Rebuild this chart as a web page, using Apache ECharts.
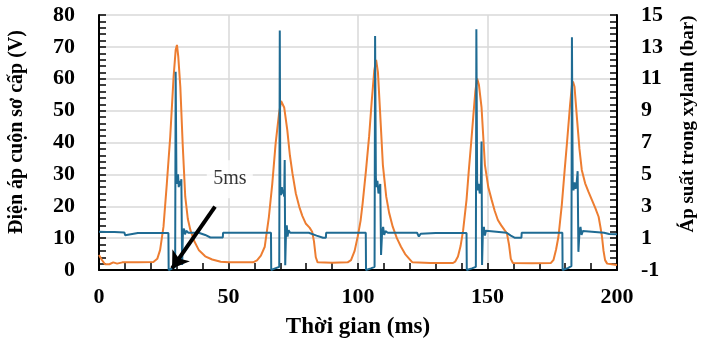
<!DOCTYPE html>
<html>
<head>
<meta charset="utf-8">
<script src="https://cdn.jsdelivr.net/npm/echarts@6/dist/echarts.min.js"></script>
<style>
  html, body { margin: 0; padding: 0; background: #fff; }
  #chart { width: 709px; height: 341px; }
</style>
</head>
<body>
<div id="chart"></div>
<script>
// primary coil voltage (V), left axis
const voltTime = [
  0, 3, 6, 9.8, 10.1, 10.5, 10.7, 15, 20, 26.8, 26.9, 28, 29.4, 29.6, 29.9, 30.2, 30.5, 30.8, 31.1, 31.5, 31.8, 32.1, 32.4, 32.8, 33.2, 33.7, 34.5,
  38.5, 41, 43, 47.8, 47.9, 55, 66.4, 66.5, 68, 69.6, 69.8, 70.0, 70.3, 70.6, 70.9, 71.2, 71.5, 71.7, 71.9, 72.2, 72.5, 72.8, 73.2, 73.8,
  81, 84, 86.5, 87.6, 87.7, 95, 103, 103.1, 105, 106.4, 106.6, 106.9, 107.2, 107.5, 107.9, 108.3, 108.6, 108.9, 109.3, 109.7, 110.1, 110.6, 111.5,
  122.8, 123.5, 124.2, 130, 141.9, 142, 144, 145.5, 145.7, 146, 146.3, 146.6, 147, 147.4, 147.7, 147.9, 148.2, 148.6, 149, 149.4, 150,
  157.4, 159, 160.6, 163.1, 163.2, 170, 178.9, 179, 181, 182.4, 182.6, 182.9, 183.2, 183.6, 184, 184.4, 184.8, 185.1, 185.5, 185.9, 186.3, 186.8, 187.5,
  195, 197, 200
];
const voltValue = [
  12, 11.9, 11.9, 11.8, 10.9, 10.9, 11.5, 11.6, 11.6, 11.6, 0, 0.4, 1.0, 62.2, 29, 27, 30, 26, 28, 26.5, 28.5, 1.6, 11.7, 13, 11.2, 12.3, 11.7,
  11.7, 11, 10.2, 10.2, 11.7, 11.7, 11.7, 0, 0.5, 1.0, 75.1, 26, 23.5, 26, 24, 25, 23, 34.5, 1.5, 11.7, 14, 10.5, 12.5, 11.7,
  11.7, 10.8, 10.1, 10.1, 11.7, 11.7, 11.7, 0, 0.5, 1.0, 73.4, 29, 26, 28, 24, 26, 27, 4.7, 11.7, 13.5, 11, 12.2, 11.7,
  11.7, 10.5, 11.4, 11.6, 11.6, 0, 0.5, 1.0, 75.5, 28, 25, 27, 24, 26, 40.3, 1.6, 11.7, 13.5, 10.8, 12.3, 11.7,
  11.7, 10.8, 10.1, 10.1, 11.7, 11.7, 11.7, 0, 0.6, 1.2, 73, 27, 25, 27.5, 25.5, 27, 31, 5.7, 11.7, 13.5, 11, 12.2, 11.7,
  11.7, 11.3, 11.2
];

// cylinder pressure (bar), right axis
const pressTime = [
  0, 1, 2.3, 4, 5.5, 7, 9, 15, 21, 22.5, 23.6, 24.9, 26.2, 27.5, 28.8, 29.6, 30.1, 30.6, 31.4, 32.3, 33.3, 34.3, 35.3, 36.8, 38.5, 41, 43.7, 47, 50, 55, 59.5,
  61, 62.5, 64, 65.6, 66.9, 68.2, 69.5, 70.3, 70.8, 71.5, 72.7, 73.7, 74.7, 76, 77.3, 78.5, 79.8, 81.3, 82.3, 83, 83.7, 84.4, 90, 96,
  97.3, 98.7, 99.9, 101, 101.8, 103.1, 104.3, 105.3, 106.3, 107, 107.7, 108.5, 109.6, 110.9, 112, 113.4, 115, 116.6, 118.2, 119.8, 121, 128, 136.7,
  137.5, 138.6, 139.6, 140.6, 141.9, 142.8, 143.7, 144.5, 145.3, 146, 146.7, 147.7, 149, 150.3, 151.6, 152.8, 154, 155.3, 156.6, 157.5, 158.3, 159, 159.8, 167, 174.5,
  175.5, 176.5, 177.4, 178.7, 179.8, 180.7, 181.9, 182.6, 183, 183.6, 184.6, 185.5, 186.4, 187.7, 189, 190.3, 191.6, 192.9, 193.6, 194.2, 194.8, 195.4, 196.2, 198, 200
];
const pressValue = [
  -0.06, -0.34, -0.64, -0.64, -0.52, -0.6, -0.52, -0.52, -0.5, -0.3, 0.26, 1.72, 4.44, 7.36, 11.12, 12.8, 13.12, 12.4, 10.5, 6.94, 3.6, 2.2, 1.5, 0.8, 0.26, -0.14, -0.34, -0.48, -0.52, -0.52, -0.52,
  -0.4, -0.1, 0.46, 2.34, 4.4, 6.94, 8.8, 9.6, 9.66, 9.2, 7.78, 6.2, 5.06, 3.8, 2.98, 2.4, 1.92, 1.66, 1.4, 0.8, -0.2, -0.52, -0.54, -0.52,
  -0.38, 0.2, 1.1, 2.1, 3.2, 5.28, 7.4, 9.6, 11.54, 12.18, 11.4, 9, 5.6, 3.6, 2.6, 1.72, 1, 0.46, 0, -0.3, -0.52, -0.56, -0.56,
  -0.48, -0.16, 0.5, 1.5, 3.4, 5.28, 7, 8.62, 10.2, 11.02, 10.6, 9.2, 5.6, 4.2, 3.4, 2.7, 2.14, 1.8, 1.5, 1.3, 0.6, -0.3, -0.56, -0.58, -0.56,
  -0.36, 0.3, 1.1, 3.1, 5.28, 7, 9.4, 10.6, 10.82, 10.5, 8.4, 6.6, 5.28, 4.44, 3.9, 3.4, 2.9, 2.34, 1.7, 1.1, 0.2, -0.38, -0.6, -0.64, -0.68
];

// axis titles
const xTitle = 'Thời gian (ms)';
const leftTitle = 'Điện áp cuộn sơ cấp (V)';
const rightTitle = 'Áp suất trong xylanh (bar)';

// "5ms" annotation: arrow from tail to tip, label position (ms, V)
const arrowFrom = [44.8, 19.9];
const arrowTo = [28.2, 0.5];
const noteAt = [50.5, 28.5];
const noteText = '5ms';

const zip = (xs, ys) => xs.map((x, i) => [x, ys[i]]);
const near = (a, b) => Math.abs(a - b) < 1e-6;

const serif = "'Liberation Serif', 'Times New Roman', serif";

// every style object is built fresh so no two axes share one
const tickLabel = (margin, formatter) => ({
  color: '#000', fontSize: 22, fontWeight: 'bold', fontFamily: serif, margin: margin, formatter: formatter
});
const blackLine = () => ({ show: true, onZero: false, lineStyle: { color: '#000', width: 2 } });
const noLine = () => ({ show: false, onZero: false });
const off = () => ({ show: false });
const tick = () => ({ show: true, inside: true, length: 7, lineStyle: { color: '#000', width: 1.5 } });
const gridLine = () => ({ show: true, lineStyle: { color: '#d9d9d9', width: 1.5 } });
const plotRect = () => ({ left: 99, right: 92, top: 15, bottom: 71, outerBoundsMode: 'none' });

const titleText = (text, size, x, y, rotate) => ({
  type: 'text',
  x: x,
  y: y,
  rotation: rotate ? Math.PI / 2 : 0,
  silent: true,
  style: {
    text: text,
    fill: '#000',
    fontSize: size,
    fontWeight: 'bold',
    fontFamily: serif,
    align: 'center',
    verticalAlign: 'middle'
  }
});

const chart = echarts.init(document.getElementById('chart'));

const option = {
  backgroundColor: '#fff',
  animation: false,
  // 0: voltage, 1: pressure, 2: background grid lines (all the same rect)
  grid: [plotRect(), plotRect(), plotRect()],
  xAxis: [
    {
      gridIndex: 0,
      type: 'value',
      z: 1,
      min: 0,
      max: 200,
      interval: 10,
      axisLine: blackLine(),
      axisTick: tick(),
      axisLabel: tickLabel(16, v => (v % 50 === 0 ? String(v) : '')),
      splitLine: off()
    },
    { gridIndex: 1, type: 'value', min: 0, max: 200, show: false },
    {
      gridIndex: 2,
      type: 'value',
      z: 0,
      min: 0,
      max: 200,
      interval: 50,
      axisLine: noLine(),
      axisTick: off(),
      axisLabel: off(),
      splitLine: gridLine()
    }
  ],
  yAxis: [
    {
      gridIndex: 0,
      type: 'value',
      position: 'left',
      z: 1,
      min: 0,
      max: 80,
      interval: 2,
      axisLine: blackLine(),
      axisTick: tick(),
      axisLabel: tickLabel(24, v => (near(v % 10, 0) ? String(Math.round(v)) : '')),
      splitLine: off()
    },
    {
      gridIndex: 1,
      type: 'value',
      position: 'right',
      z: 1,
      min: -1,
      max: 15,
      interval: 0.4,
      axisLine: blackLine(),
      axisTick: tick(),
      axisLabel: tickLabel(24, v => {
        const r = Math.round(v);
        return near(v, r) && Math.abs(r % 2) === 1 ? String(r) : '';
      }),
      splitLine: off()
    },
    {
      gridIndex: 2,
      type: 'value',
      z: 0,
      min: 0,
      max: 80,
      interval: 10,
      axisLine: noLine(),
      axisTick: off(),
      axisLabel: off(),
      splitLine: gridLine()
    }
  ],
  graphic: [
    titleText(xTitle, 23, 358, 327, false),
    titleText(leftTitle, 20, 17, 132, true),
    titleText(rightTitle, 19, 688, 124, true)
  ],
  series: [
    {
      type: 'line',
      xAxisIndex: 1,
      yAxisIndex: 1,
      data: zip(pressTime, pressValue),
      symbol: 'none',
      lineStyle: { color: '#ed7d31', width: 2 }
    },
    {
      type: 'line',
      xAxisIndex: 0,
      yAxisIndex: 0,
      data: zip(voltTime, voltValue),
      symbol: 'none',
      lineStyle: { color: '#1f6b93', width: 2 }
    },
    {
      // arrow pointing at the start of the 5 ms dwell
      type: 'lines',
      coordinateSystem: 'cartesian2d',
      xAxisIndex: 0,
      yAxisIndex: 0,
      symbol: ['none', 'arrow'],
      symbolSize: 16,
      lineStyle: { color: '#000', width: 4, opacity: 1 },
      data: [{ coords: [arrowFrom, arrowTo] }],
      z: 4
    },
    {
      // white box with the "5ms" note
      type: 'scatter',
      xAxisIndex: 0,
      yAxisIndex: 0,
      data: [noteAt],
      symbol: 'rect',
      symbolSize: [46, 38],
      itemStyle: { color: '#fff' },
      label: {
        show: true,
        position: 'inside',
        formatter: noteText,
        color: '#000',
        fontSize: 20,
        fontFamily: serif
      },
      z: 4
    }
  ]
};

chart.setOption(option);
</script>
</body>
</html>
